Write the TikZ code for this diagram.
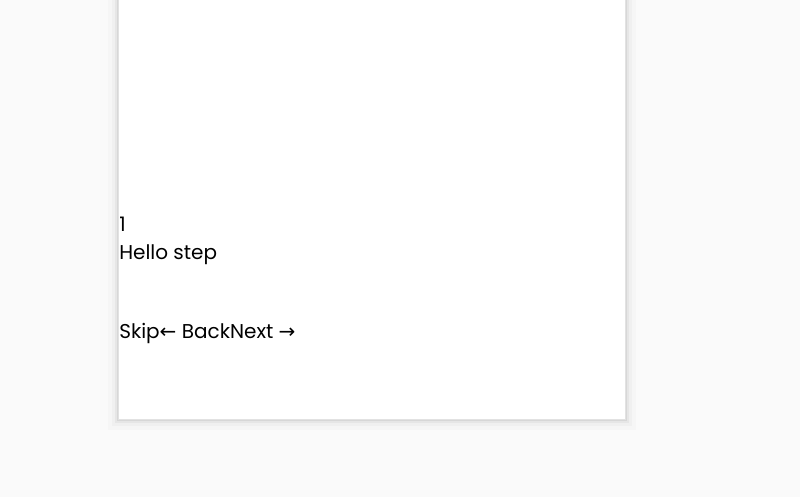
\documentclass[tikz,border=0pt]{standalone}
\usepackage{fontspec}
\setmainfont{Poppins}
\newfontfamily\arrowfont{DejaVu Sans}
\definecolor{bg}{HTML}{FAFAFA}
\definecolor{cardborder}{HTML}{E2E2E2}
\begin{document}
\begin{tikzpicture}[x=0.75pt,y=-0.75pt,
  txt/.style={anchor=base west,inner sep=0pt,font=\fontsize{15}{18}\selectfont}]
\fill[bg] (0,0) rectangle (800,497);
\useasboundingbox (0,0) rectangle (800,497);
\foreach \i/\o in {1/0.06,3/0.04,6/0.025,10/0.015}{
  \fill[black,opacity=\o] (118-\i,0) rectangle (626+\i,420+\i);}
\fill[white] (118,-2) rectangle (626,420);
\draw[cardborder,line width=0.75pt] (118.5,-2) -- (118.5,419.5) -- (625.5,419.5) -- (625.5,-2);
\node[txt] (num) at (119,231) {1};
\node[txt] (hello) at (119,259) {Hello step};
\node[txt] (nav) at (119,338) {Skip{\arrowfont←} BackNext {\arrowfont→}};
\end{tikzpicture}
\end{document}
